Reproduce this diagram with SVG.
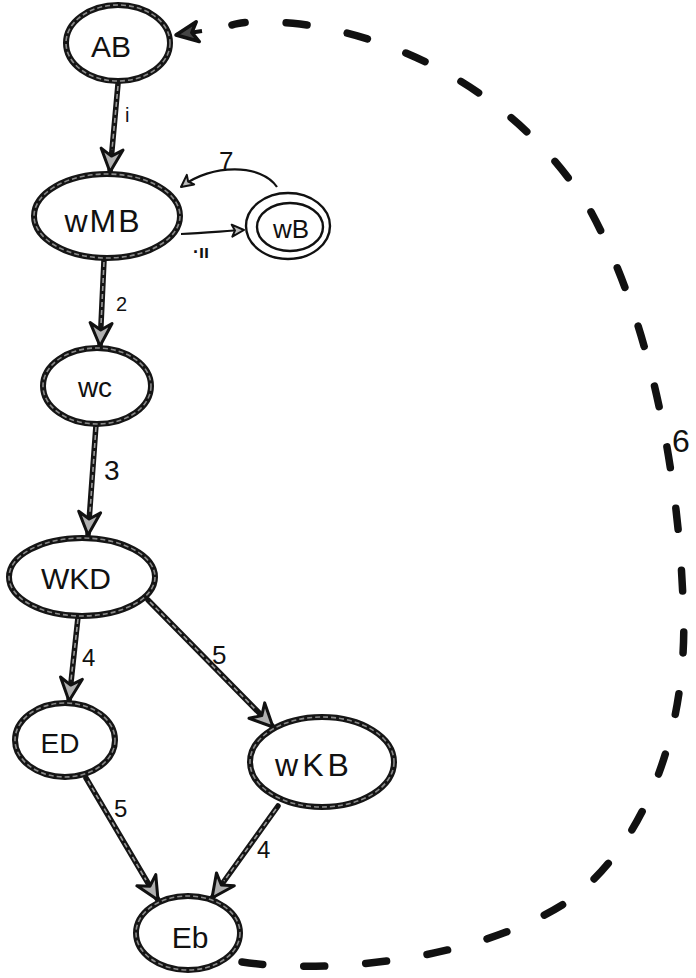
<svg xmlns="http://www.w3.org/2000/svg" width="696" height="978" viewBox="0 0 696 978">
  <style>
    .rim { fill: #fff; stroke: #151515; stroke-width: 6; }
    .core { fill: none; stroke: #8a8a8a; stroke-width: 1.6; stroke-dasharray: 5 3; }
    .thin { fill: none; stroke: #111; stroke-width: 2.4; }
    .edge { fill: none; stroke: #151515; stroke-width: 5.5; stroke-linecap: round; }
    .edge-core { fill: none; stroke: #9a9a9a; stroke-width: 1.6; stroke-dasharray: 5 3; }
    .light { fill: none; stroke: #111; stroke-width: 2.2; }
    .dash { fill: none; stroke: #111; stroke-width: 7.5; stroke-linecap: round; stroke-dasharray: 21 41; }
    .lbl { font-family: "Liberation Sans", "DejaVu Sans", sans-serif; fill: #111; text-anchor: middle; }
    .elbl { font-family: "Liberation Sans", "DejaVu Sans", sans-serif; fill: #111; }
  </style>
  <defs>
    <marker id="head" markerUnits="userSpaceOnUse" markerWidth="34" markerHeight="34" refX="26" refY="14" orient="auto">
      <path d="M 3 3 L 26 14 L 3 25 L 10 14 Z" fill="#b0b0b0" stroke="#111" stroke-width="3" stroke-linejoin="round"/>
    </marker>
    <marker id="small" markerUnits="userSpaceOnUse" markerWidth="20" markerHeight="20" refX="14" refY="8" orient="auto">
      <path d="M 2 2 L 14 8 L 2 14 L 5 8 Z" fill="#bbb" stroke="#111" stroke-width="2" stroke-linejoin="round"/>
    </marker>
    <marker id="back" markerUnits="userSpaceOnUse" markerWidth="34" markerHeight="34" refX="26" refY="14" orient="auto">
      <path d="M 4 4 L 26 14 L 4 24 L 10 14 Z" fill="#444" stroke="#111" stroke-width="3.5" stroke-linejoin="round"/>
    </marker>
  </defs>

  <!-- connectors -->
  <g id="connectors">
    <!-- 1: AB -> wMB -->
    <path class="edge" d="M 118 84 L 110 172" marker-end="url(#head)"/>
    <path class="edge-core" d="M 118 86 L 112 150"/>
    <text class="elbl" x="125" y="122" font-size="20">i</text>

    <!-- 2: wMB -> wc -->
    <path class="edge" d="M 104 260 L 100 346" marker-end="url(#head)"/>
    <path class="edge-core" d="M 104 262 L 101 325"/>
    <text class="elbl" x="116" y="311" font-size="20">2</text>

    <!-- 3: wc -> WKD -->
    <path class="edge" d="M 96 425 L 88 535" marker-end="url(#head)"/>
    <path class="edge-core" d="M 96 427 L 90 512"/>
    <text class="elbl" x="104" y="480" font-size="28">3</text>

    <!-- 4: WKD -> ED -->
    <path class="edge" d="M 78 617 L 69 701" marker-end="url(#head)"/>
    <path class="edge-core" d="M 78 619 L 71 680"/>
    <text class="elbl" x="82" y="666" font-size="24">4</text>

    <!-- 5: WKD -> wKB -->
    <path class="edge" d="M 148 600 L 273 727" marker-end="url(#head)"/>
    <path class="edge-core" d="M 150 602 L 256 710"/>
    <text class="elbl" x="212" y="664" font-size="26">5</text>

    <!-- 5: ED -> Eb -->
    <path class="edge" d="M 86 778 L 158 900" marker-end="url(#head)"/>
    <path class="edge-core" d="M 88 781 L 146 880"/>
    <text class="elbl" x="114" y="817" font-size="24">5</text>

    <!-- 4: wKB -> Eb -->
    <path class="edge" d="M 278 806 L 212 898" marker-end="url(#head)"/>
    <path class="edge-core" d="M 276 809 L 224 881"/>
    <text class="elbl" x="257" y="858" font-size="24">4</text>

    <!-- 11: wMB -> wB -->
    <path class="light" d="M 181 234 C 205 233, 225 231, 244 230" marker-end="url(#small)"/>
    <text class="elbl" x="193" y="258" font-size="18" font-weight="bold">·ıı</text>

    <!-- 7: wB -> wMB -->
    <path class="light" d="M 277 187 C 262 164, 212 163, 181 187" marker-end="url(#small)"/>
    <text class="elbl" x="219" y="170" font-size="26">7</text>

    <!-- 6: Eb -> AB (dashed) -->
    <path class="dash" d="M 242 962 C 330 975, 480 960, 570 900 C 650 840, 690 720, 683 600 C 678 470, 650 320, 590 210 C 530 110, 420 40, 300 24 C 260 20, 240 22, 232 25"/>
    <path d="M 202 31 L 176 35" fill="none" stroke="#111" stroke-width="4" marker-end="url(#back)"/>
    <text class="elbl" x="672" y="452" font-size="32">6</text>
  </g>

  <!-- nodes -->
  <g id="node-AB">
    <ellipse class="rim" cx="118" cy="43" rx="52" ry="38"/>
    <ellipse class="core" cx="118" cy="43" rx="52" ry="38"/>
    <text class="lbl" x="111" y="57" font-size="30">AB</text>
  </g>

  <g id="node-wMB">
    <ellipse class="rim" cx="107" cy="216" rx="73" ry="42"/>
    <ellipse class="core" cx="107" cy="216" rx="73" ry="42"/>
    <text class="lbl" x="103" y="232" font-size="32" letter-spacing="2">wMB</text>
  </g>

  <g id="node-wB">
    <ellipse fill="#fff" class="thin" cx="288" cy="226" rx="42" ry="33"/>
    <ellipse class="thin" cx="290" cy="227" rx="33" ry="24"/>
    <text class="lbl" x="291" y="238" font-size="26">wB</text>
  </g>

  <g id="node-wc">
    <ellipse class="rim" cx="97" cy="386" rx="54" ry="38"/>
    <ellipse class="core" cx="97" cy="386" rx="54" ry="38"/>
    <text class="lbl" x="95" y="397" font-size="28">wc</text>
  </g>

  <g id="node-WKD">
    <ellipse class="rim" cx="82" cy="577" rx="73" ry="39"/>
    <ellipse class="core" cx="82" cy="577" rx="73" ry="39"/>
    <text class="lbl" x="76" y="589" font-size="30">WKD</text>
  </g>

  <g id="node-ED">
    <ellipse class="rim" cx="65" cy="740" rx="50" ry="37"/>
    <ellipse class="core" cx="65" cy="740" rx="50" ry="37"/>
    <text class="lbl" x="60" y="753" font-size="28">ED</text>
  </g>

  <g id="node-wKB">
    <ellipse class="rim" cx="322" cy="762" rx="72" ry="45"/>
    <ellipse class="core" cx="322" cy="762" rx="72" ry="45"/>
    <text class="lbl" x="314" y="776" font-size="32" letter-spacing="4">wKB</text>
  </g>

  <g id="node-Eb">
    <ellipse class="rim" cx="188" cy="933" rx="52" ry="37"/>
    <ellipse class="core" cx="188" cy="933" rx="52" ry="37"/>
    <text class="lbl" x="190" y="948" font-size="30">Eb</text>
  </g>
</svg>
